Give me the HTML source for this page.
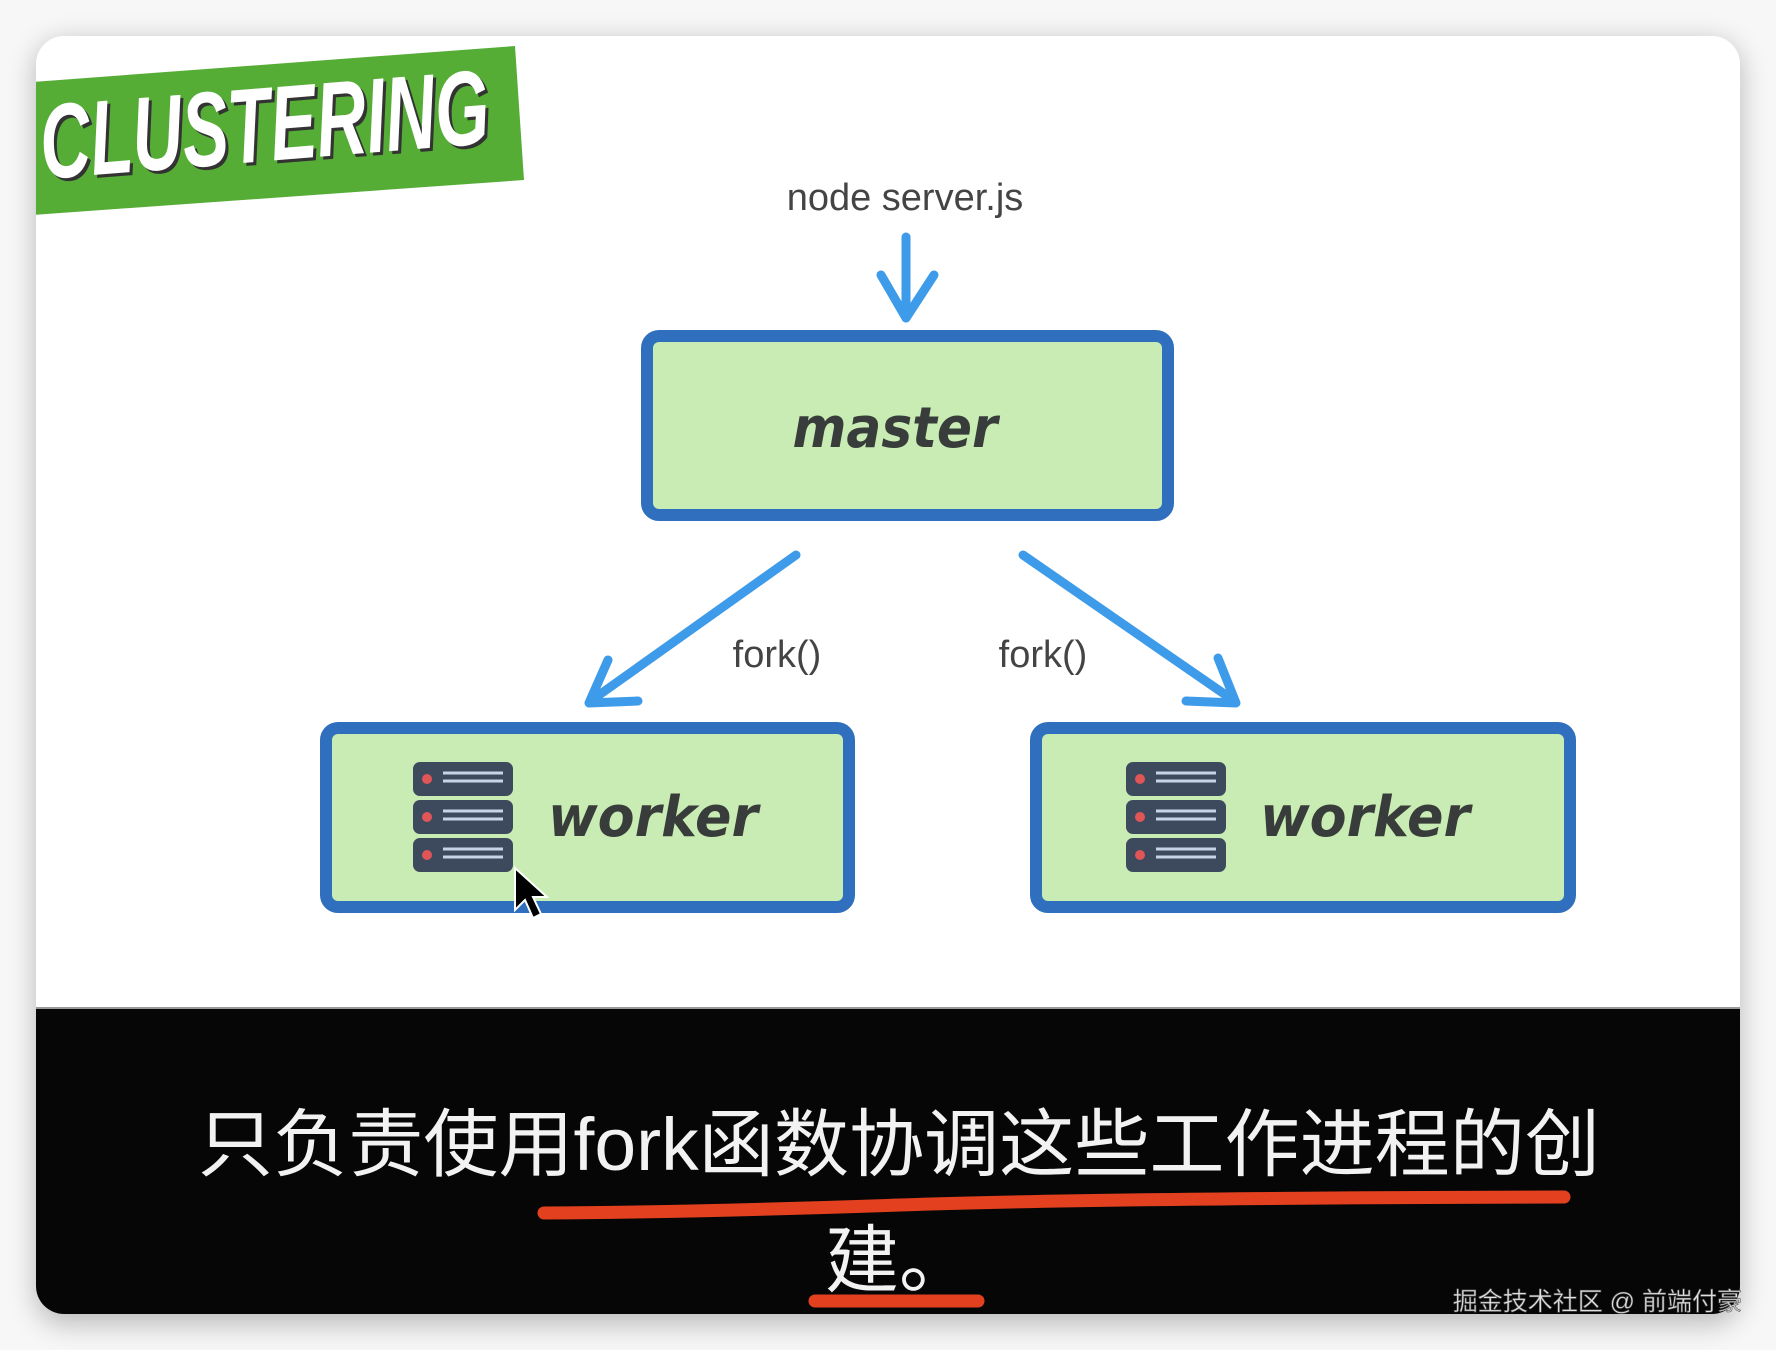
<!DOCTYPE html>
<html><head><meta charset="utf-8"><style>
html,body{margin:0;padding:0;background:#f7f7f7;}
body{width:1776px;height:1350px;overflow:hidden;position:relative;}
</style></head><body>
<svg width="1776" height="1350" viewBox="0 0 1776 1350" xmlns="http://www.w3.org/2000/svg" style="position:absolute;left:0;top:0">
<defs>
<filter id="sh" x="-10%" y="-10%" width="120%" height="120%"><feGaussianBlur stdDeviation="14"/></filter>
<clipPath id="card"><rect x="36" y="36" width="1704" height="1278" rx="28"/></clipPath>
</defs>
<rect width="1776" height="1350" fill="#f7f7f7"/>
<rect x="36" y="42" width="1704" height="1282" rx="28" fill="#000" opacity="0.25" filter="url(#sh)"/>
<g clip-path="url(#card)">
<rect x="36" y="36" width="1704" height="1278" fill="#fff"/>
<rect x="36" y="1008" width="1704" height="306" fill="#060606"/>
<line x1="36" y1="1008" x2="1740" y2="1008" stroke="#999" stroke-width="2"/>
<!-- banner -->
<polygon points="32,82 515,46 524,180 32,215" fill="#55ad35"/>
<text x="0" y="0" transform="translate(46,182) rotate(-4.6)" font-family="'Liberation Sans Narrow','Liberation Sans',sans-serif" font-weight="bold" font-style="italic" font-size="106" fill="#333" textLength="450" lengthAdjust="spacingAndGlyphs">CLUSTERING</text>
<text x="0" y="0" transform="translate(43,179) rotate(-4.6)" font-family="'Liberation Sans Narrow','Liberation Sans',sans-serif" font-weight="bold" font-style="italic" font-size="106" fill="#fff" textLength="450" lengthAdjust="spacingAndGlyphs">CLUSTERING</text>
</g>
<!-- node server.js -->
<text x="905" y="210" text-anchor="middle" font-family="'Liberation Sans',sans-serif" font-size="38" fill="#444">node server.js</text>
<g stroke="#3d9be9" stroke-width="9" fill="none" stroke-linecap="round" stroke-linejoin="round">
<line x1="906" y1="237" x2="906" y2="318"/>
<polyline points="881,275 906,318 934,275"/>
<line x1="796" y1="555" x2="592" y2="700"/>
<polyline points="608,660 589,703 638,701"/>
<line x1="1023" y1="555" x2="1233" y2="700"/>
<polyline points="1218,658 1236,703 1186,701"/>
</g>
<text x="777" y="667" text-anchor="middle" font-family="'Liberation Sans Narrow','Liberation Sans',sans-serif" font-size="38" fill="#444">fork()</text>
<text x="1043" y="667" text-anchor="middle" font-family="'Liberation Sans Narrow','Liberation Sans',sans-serif" font-size="38" fill="#444">fork()</text>
<!-- boxes -->
<g fill="#c8ecb3" stroke="#2f6fbd" stroke-width="12" stroke-linejoin="round">
<rect x="647" y="336" width="521" height="179" rx="12"/>
<rect x="326" y="728" width="523" height="179" rx="12"/>
<rect x="1036" y="728" width="534" height="179" rx="12"/>
</g>
<text x="895" y="447" text-anchor="middle" font-family="'DejaVu Sans',sans-serif" font-weight="bold" font-style="italic" font-size="56" fill="#383c3a" textLength="205" lengthAdjust="spacingAndGlyphs">master</text>
<text x="548" y="836" font-family="'DejaVu Sans',sans-serif" font-weight="bold" font-style="italic" font-size="56" fill="#383c3a" textLength="210" lengthAdjust="spacingAndGlyphs">worker</text>
<text x="1260" y="836" font-family="'DejaVu Sans',sans-serif" font-weight="bold" font-style="italic" font-size="56" fill="#383c3a" textLength="210" lengthAdjust="spacingAndGlyphs">worker</text>
<!-- server icons -->
<g id="srv">
<rect x="413" y="762" width="100" height="34" rx="7" fill="#3d4a5e"/>
<rect x="413" y="800" width="100" height="34" rx="7" fill="#3d4a5e"/>
<rect x="413" y="838" width="100" height="34" rx="7" fill="#3d4a5e"/>
<g fill="#e05555"><circle cx="427" cy="779" r="5"/><circle cx="427" cy="817" r="5"/><circle cx="427" cy="855" r="5"/></g>
<g stroke="#c7d3e6" stroke-width="3"><line x1="443" y1="773" x2="503" y2="773"/><line x1="443" y1="781" x2="503" y2="781"/><line x1="443" y1="811" x2="503" y2="811"/><line x1="443" y1="819" x2="503" y2="819"/><line x1="443" y1="849" x2="503" y2="849"/><line x1="443" y1="857" x2="503" y2="857"/></g>
</g>
<use href="#srv" transform="translate(713,0)"/>
<!-- cursor -->
<polygon points="515,868 515,910 525,900 533,918 541,914 533,897 547,897" fill="#000" stroke="#fff" stroke-width="2"/>
<!-- subtitles -->
<text x="198" y="1170" font-family="'Liberation Sans','Noto Sans CJK SC',sans-serif" font-size="74" fill="#f2f2f2" textLength="1402" lengthAdjust="spacingAndGlyphs">只负责使用fork函数协调这些工作进程的创</text>
<text x="825" y="1286" font-family="'Liberation Sans','Noto Sans CJK SC',sans-serif" font-size="74" fill="#f2f2f2">建。</text>
<g stroke="#e2401f" stroke-width="13" stroke-linecap="round" fill="none">
<path d="M544,1213 Q700,1212 900,1205 T1564,1197"/>
<line x1="815" y1="1301" x2="978" y2="1301"/>
</g>
<text x="1742" y="1310" text-anchor="end" font-family="'Liberation Sans','Noto Sans CJK SC',sans-serif" font-size="25" fill="#e0e0e0" stroke="#555" stroke-width="0.6">掘金技术社区 @ 前端付豪</text>
</svg>
</body></html>
